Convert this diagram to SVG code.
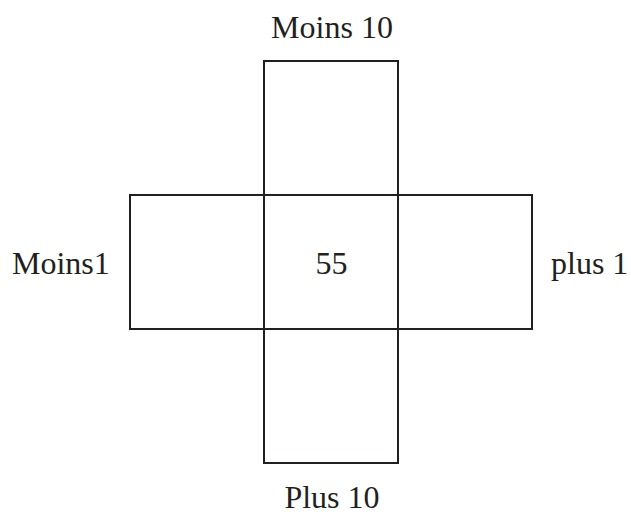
<svg xmlns="http://www.w3.org/2000/svg" width="631" height="516" viewBox="0 0 631 516">
<style>
.box{fill:none;stroke:#231f20;stroke-width:2}
.t{font-family:'Liberation Serif','Times New Roman',serif;font-size:32px;fill:#231f20}
.m{text-anchor:middle}
</style>
<rect width="631" height="516" fill="#fff"/>
<g id="top"><rect class="box" x="264" y="61" width="134" height="134"/></g>
<g id="left"><rect class="box" x="130" y="195" width="134" height="134"/></g>
<g id="center"><rect class="box" x="264" y="195" width="134" height="134"/><text class="t m" x="331.5" y="274">55</text></g>
<g id="right"><rect class="box" x="398" y="195" width="134" height="134"/></g>
<g id="bottom"><rect class="box" x="264" y="329" width="134" height="134"/></g>
<g id="labels">
<text class="t m" x="332" y="38">Moins 10</text>
<text class="t" x="12" y="274">Moins1</text>
<text class="t" x="551" y="274">plus 1</text>
<text class="t m" x="332" y="508">Plus 10</text>
</g>
<g id="connectors"></g>
</svg>
